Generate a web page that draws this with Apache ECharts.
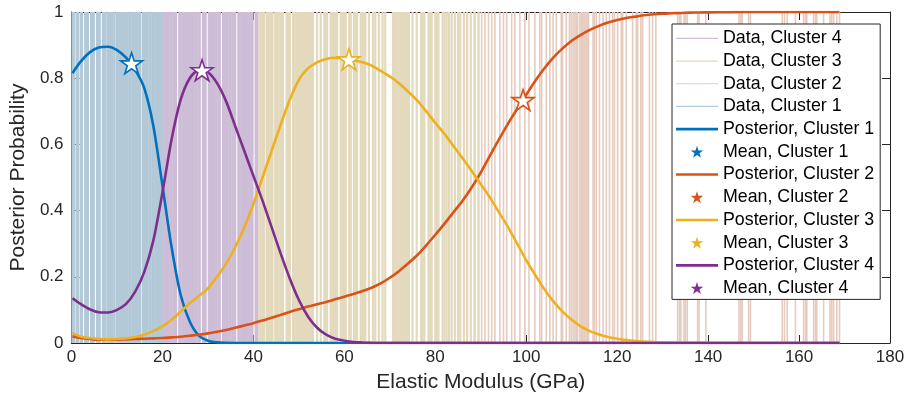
<!DOCTYPE html>
<html>
<head>
<meta charset="utf-8">
<script src="https://cdn.jsdelivr.net/npm/echarts@6/dist/echarts.min.js"></script>
<style>html,body{margin:0;padding:0;background:#fff;}#c{width:908px;height:407px;}</style>
</head>
<body>
<div id="c"></div>
<script>
// ---- data ----
const xTicks = [0, 20, 40, 60, 80, 100, 120, 140, 160, 180];
const yTickLabels = ['0', '0.2', '0.4', '0.6', '0.8', '1'];

const dataCluster1 = [0.2,0.5,1.1,1.4,2.0,2.3,3.0,3.3,3.6,4.3,4.6,4.9,5.6,5.9,6.2,6.9,7.2,7.5,
  8.0,8.3,8.7,9.0,9.4,9.9,10.2,10.6,10.9,11.3,11.6,12.0,12.3,12.7,13.0,13.4,13.7,14.1,14.4,14.8,15.1,
  15.7,16.0,16.4,16.7,17.1,17.4,17.8,18.1,18.5,18.8,19.2,19.5,19.9];
const dataCluster4 = [20.3,20.6,21.0,21.3,21.7,22.0,22.4,22.7,23.0,23.7,24.0,24.4,24.7,25.1,25.4,25.8,26.1,
  26.5,26.8,27.2,27.5,27.9,28.2,28.9,29.2,29.5,30.2,30.5,30.9,31.2,31.6,31.9,32.3,32.6,33.3,33.6,34.0,34.3,
  34.7,35.0,35.4,35.7,36.0,36.7,37.0,37.4,37.7,38.1,38.4,38.8,39.1,39.5,39.8,40.5,40.8];
const dataCluster3 = [41.3,41.6,42.0,42.3,42.9,43.2,43.6,43.9,44.2,44.8,45.2,45.5,45.9,46.2,46.5,47.3,47.6,
  48.0,48.7,49.0,49.4,49.7,50.0,50.4,50.7,51.1,51.4,51.7,52.1,52.4,52.8,53.1,54.0,54.8,55.6,55.9,56.2,
  57.0,57.3,57.7,58.0,58.4,59.2,59.6,59.9,60.3,61.1,61.4,62.1,62.4,62.8,63.6,63.9,64.3,64.6,65.4,66.3,
  66.8,67.6,68.4,69.0,70.7,71.0,71.4,71.7,72.1,72.4,72.8,73.1,73.5,73.8,74.2,75.0,75.9,76.9,77.2,77.6,
  78.5,78.8,79.2,80.0,80.3,80.7,81.6,82.0,82.5,83.0,83.6,84.3,85.0,85.5,86.3,87.0,87.8,88.6,89.5];
const dataCluster2 = [88.7,89.5,90.2,90.9,91.7,92.4,93.1,94.2,95.0,95.7,96.8,97.5,98.6,99.7,100.6,101.9,
  103.0,103.4,104.4,105.2,105.9,106.6,107.7,108.0,108.8,109.5,109.9,110.3,110.7,111.0,111.3,111.8,112.1,
  112.4,112.7,112.9,113.2,113.5,113.7,114.7,115.0,115.4,116.1,116.9,117.6,118.3,119.0,119.4,120.1,120.9,
  121.2,122.0,123.4,124.2,124.5,125.2,125.6,127.1,127.8,128.5,133.3,133.7,134.0,134.7,135.0,135.4,137.7,
  138.0,139.5,146.8,147.2,147.5,148.9,149.3,156.3,156.8,157.4,159.2,161.0,161.4,161.7,163.2,163.6,163.9,
  165.4,166.8,167.2,167.6,168.3,168.9];

const gridX = [0.2,2,4,6,8,10,12,14,16,18,20,22,24,26,28,30,32,34,36,38,40,42,44,46,48,50,52,54,56,58,60,
  62,64,66,68,70,72,74,76,78,80,82,84,86,88,90,92,94,96,98,100,102,104,106,108,110,112,114,116,118,120,
  122,124,126,128,130,132,134,136,138,140,145,150,155,160,165,168.9];
const posterior1 = [0.815,0.85,0.878,0.893,0.895,0.885,0.862,0.825,0.77,0.655,0.475,0.29,0.145,0.065,0.022,0.007,0.002,0.0005,0,0,0,
  0,0,0,0,0,0,0,0,0,0,0,0,0,0,0,0,0,0,0,0,0,0,0,0,0,0,0,0,0,0,0,0,0,0,0,0,0,0,0,0,0,0,0,0,0,0,0,0,0,0,0,0,0,0,0,0];
const posterior4 = [0.135,0.118,0.102,0.093,0.092,0.1,0.118,0.155,0.215,0.31,0.455,0.615,0.735,0.8,0.823,0.818,0.785,0.73,0.655,0.58,0.505,
  0.43,0.35,0.27,0.195,0.13,0.08,0.046,0.025,0.013,0.007,0.003,0.0015,0.0005,0,0,0,0,0,0,0,0,0,0,0,0,0,0,0,0,0,0,0,0,0,0,0,0,0,0,0,0,0,0,0,0,0,0,0,0,0,0,0,0,0,0,0];
const posterior3 = [0.03,0.02,0.015,0.012,0.011,0.012,0.014,0.018,0.025,0.036,0.05,0.07,0.095,0.12,0.142,0.165,0.2,0.24,0.29,0.35,0.42,
  0.5,0.58,0.66,0.735,0.795,0.83,0.848,0.858,0.862,0.86,0.855,0.848,0.838,0.822,0.805,0.785,0.76,0.733,0.70,0.665,0.632,0.595,0.558,0.52,
  0.48,0.44,0.395,0.35,0.3,0.25,0.205,0.162,0.125,0.095,0.07,0.05,0.036,0.026,0.018,0.013,0.009,0.006,0.004,0.003,0.002,0.0015,0.001,
  0.0007,0.0005,0.0003,0,0,0,0,0,0];
const posterior2 = [0.02,0.015,0.012,0.01,0.01,0.01,0.011,0.012,0.013,0.014,0.015,0.017,0.019,0.022,0.025,0.029,0.034,0.039,0.046,0.053,0.06,
  0.068,0.076,0.085,0.094,0.102,0.11,0.117,0.124,0.132,0.14,0.148,0.157,0.167,0.18,0.197,0.217,0.24,0.265,0.295,0.327,0.36,0.395,0.43,0.47,
  0.515,0.565,0.615,0.663,0.707,0.75,0.792,0.83,0.863,0.89,0.913,0.931,0.946,0.958,0.968,0.976,0.982,0.986,0.99,0.993,0.995,0.996,0.997,
  0.998,0.9985,0.999,0.9995,1,1,1,1,1];
const meanX = [13.2, 99.3, 61.0, 28.7];      // clusters 1..4
const meanY = [0.845, 0.734, 0.857, 0.824];

// ---- style ----
const C = ['#0072BD', '#D95319', '#EDB120', '#7E2F8E'];
const DC = ['#b3c9d8', '#e6cbbf', '#e3d9bd', '#cdbdd6'];
const DW = [2.2, 1.6, 2.2, 2.2];
const STAR = 'path://M50,0L61.23,34.55L97.55,34.55L68.17,55.9L79.39,90.45L50,69.1L20.61,90.45L31.83,55.9L2.45,34.55L38.77,34.55Z';
const FONT = 'Liberation Sans, Arial, Helvetica, sans-serif';
const TXT = '#262626';

function dataSeries(name, xs, color, w) {
  return {
    name, type: 'custom', xAxisIndex: 0, yAxisIndex: 0, z: 1,
    itemStyle: { color },
    encode: { x: 0, y: 1 },
    data: xs.map(v => [v, 1]),
    renderItem: function (params, api) {
      const x = api.value(0);
      const p0 = api.coord([x, 0]);
      const p1 = api.coord([x, 1]);
      return { type: 'line', shape: { x1: p0[0], y1: p0[1], x2: p1[0], y2: p1[1] },
        style: { stroke: color, lineWidth: w } };
    }
  };
}
function postSeries(k, ys) {
  return {
    name: 'Posterior, Cluster ' + (k + 1), type: 'line', z: 2,
    data: gridX.map((x, i) => [x, ys[i]]),
    showSymbol: false, smooth: 0.3,
    lineStyle: { color: C[k], width: 2.6 }, itemStyle: { color: C[k] }
  };
}
function meanSeries(k) {
  return {
    name: 'Mean, Cluster ' + (k + 1), type: 'scatter', z: 3,
    data: [[meanX[k], meanY[k]]], symbol: STAR, symbolSize: 22, symbolKeepAspect: true,
    itemStyle: { color: '#ffffff', borderColor: C[k], borderWidth: 1.6, opacity: 1 }
  };
}

const axisCommon = {
  axisLine: { show: true, onZero: false, lineStyle: { color: TXT, width: 1 } },
  axisTick: { show: true, inside: true, length: 8, lineStyle: { color: TXT } },
  splitLine: { show: false }
};

const LINE_ICON = 'path://M0,0H42V2.6H0Z';
const DATA_ICON = 'path://M0,0H42V1.2H0Z';

const option = {
  animation: false,
  backgroundColor: '#ffffff',
  textStyle: { fontFamily: FONT },
  grid: { left: 68, right: 18, top: 12, bottom: 64, containLabel: false },
  xAxis: [
    Object.assign({}, axisCommon, {
      type: 'value', min: xTicks[0], max: xTicks[xTicks.length - 1], interval: 20, position: 'bottom',
      axisLabel: { fontSize: 17, color: TXT, margin: 6, fontFamily: FONT },
      name: 'Elastic Modulus (GPa)', nameLocation: 'middle', nameGap: 29,
      nameTextStyle: { fontSize: 21, color: TXT, fontFamily: FONT }
    }),
    Object.assign({}, axisCommon, {
      type: 'value', min: xTicks[0], max: xTicks[xTicks.length - 1], interval: 20, position: 'top',
      axisLabel: { show: false }
    })
  ],
  yAxis: [
    Object.assign({}, axisCommon, {
      type: 'value', min: 0, max: 1, interval: 0.2, position: 'left',
      axisLabel: { fontSize: 17, color: TXT, margin: 8, fontFamily: FONT,
        formatter: v => yTickLabels[Math.round(v / 0.2)] },
      name: 'Posterior Probability', nameLocation: 'middle', nameGap: 40,
      nameTextStyle: { fontSize: 21, color: TXT, fontFamily: FONT }
    }),
    Object.assign({}, axisCommon, {
      type: 'value', min: 0, max: 1, interval: 0.2, position: 'right',
      axisLabel: { show: false }
    })
  ],
  legend: {
    orient: 'vertical', left: 672, top: 24,
    padding: [3, 6, 0, 4], itemGap: 0, itemWidth: 42, itemHeight: 12,
    backgroundColor: '#ffffff', borderColor: TXT, borderWidth: 1,
    selectedMode: false,
    textStyle: { fontSize: 17.8, color: '#000', lineHeight: 22.7, fontFamily: FONT },
    data: [
      { name: 'Data, Cluster 4', icon: DATA_ICON },
      { name: 'Data, Cluster 3', icon: DATA_ICON },
      { name: 'Data, Cluster 2', icon: DATA_ICON },
      { name: 'Data, Cluster 1', icon: DATA_ICON },
      { name: 'Posterior, Cluster 1', icon: LINE_ICON },
      { name: 'Mean, Cluster 1', icon: STAR, itemStyle: { color: C[0], borderWidth: 0 } },
      { name: 'Posterior, Cluster 2', icon: LINE_ICON },
      { name: 'Mean, Cluster 2', icon: STAR, itemStyle: { color: C[1], borderWidth: 0 } },
      { name: 'Posterior, Cluster 3', icon: LINE_ICON },
      { name: 'Mean, Cluster 3', icon: STAR, itemStyle: { color: C[2], borderWidth: 0 } },
      { name: 'Posterior, Cluster 4', icon: LINE_ICON },
      { name: 'Mean, Cluster 4', icon: STAR, itemStyle: { color: C[3], borderWidth: 0 } }
    ]
  },
  series: [
    dataSeries('Data, Cluster 1', dataCluster1, DC[0], DW[0]),
    dataSeries('Data, Cluster 2', dataCluster2, DC[1], DW[1]),
    dataSeries('Data, Cluster 3', dataCluster3, DC[2], DW[2]),
    dataSeries('Data, Cluster 4', dataCluster4, DC[3], DW[3]),
    postSeries(0, posterior1), meanSeries(0),
    postSeries(1, posterior2), meanSeries(1),
    postSeries(2, posterior3), meanSeries(2),
    postSeries(3, posterior4), meanSeries(3)
  ]
};

const chart = echarts.init(document.getElementById('c'), null, { renderer: 'canvas' });
chart.setOption(option);
</script>
</body>
</html>
